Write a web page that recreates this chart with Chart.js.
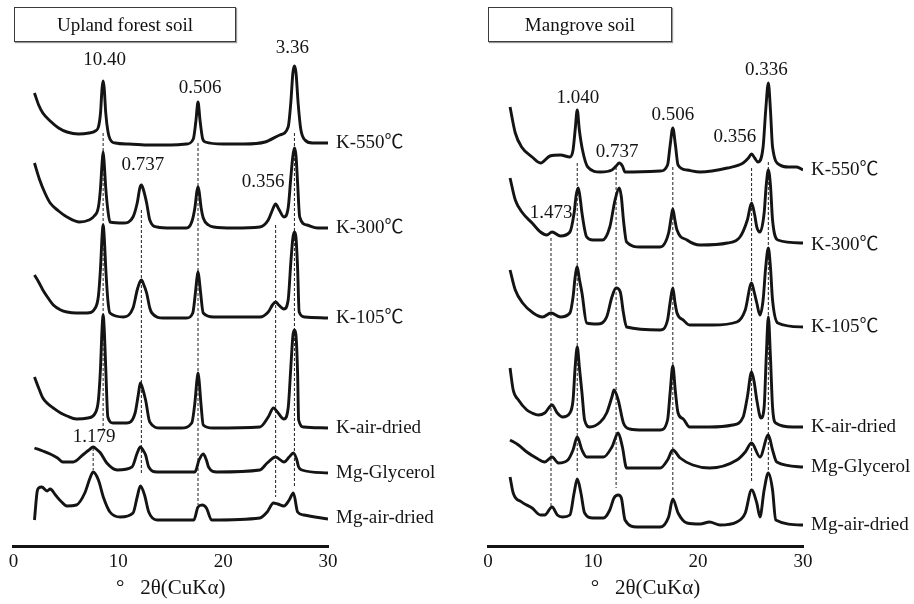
<!DOCTYPE html>
<html>
<head>
<meta charset="utf-8">
<script src="https://cdn.jsdelivr.net/npm/chart.js@4.4.1/dist/chart.umd.min.js"></script>
<style>
  body { margin: 0; background: #fff; width: 914px; height: 604px; position: relative; overflow: hidden; font-family: "Liberation Serif", serif; }
  .panel { position: absolute; top: 0; height: 604px; }
  .box { position: absolute; top: 7px; height: 33px; border: 1.6px solid #3a3a3a; box-shadow: 1px 1px 1px #999; font-size: 19px; line-height: 33px; text-align: center; color: #111; }
</style>
</head>
<body>
<div class="panel" style="left:0;width:460px"><canvas id="upland" width="460" height="604"></canvas></div>
<div class="panel" style="left:460px;width:454px"><canvas id="mangrove" width="454" height="604"></canvas></div>
<div class="box" style="left:14px;width:220px">Upland forest soil</div>
<div class="box" style="left:488px;width:182px">Mangrove soil</div>
<script>
// sample treatments, top to bottom
const sampleNames = ['K-550℃', 'K-300℃', 'K-105℃', 'K-air-dried', 'Mg-Glycerol', 'Mg-air-dried'];
const xTicks = [0, 10, 20, 30];

// ---- Upland forest soil: [2θ, intensity above the trace baseline] ----
const uplandK550 = [[2.0,50],[2.4,38],[2.8,30],[3.5,22],[4.3,15],[5.1,11],[6.2,9],[7.2,10],[7.8,12],[8.1,16],[8.3,30],[8.45,55],[8.55,62],[8.65,55],[8.8,30],[9.0,12],[9.2,4],[9.7,0],[11,-1],[13,-2],[15,-2],[16.5,-1],[17.15,4],[17.4,22],[17.6,41],[17.8,22],[18.05,4],[18.3,1],[20,-1],[22,-1],[24,1],[25.4,8],[26.2,16],[26.45,40],[26.65,70],[26.8,77],[26.95,70],[27.15,40],[27.4,14],[27.8,3],[28.5,0],[30,0]];
const uplandK300 = [[2.0,65],[2.5,48],[3.0,35],[3.5,25],[4.3,17],[5.1,11],[6.3,6],[7.2,8],[7.7,12],[8.1,21],[8.3,40],[8.45,65],[8.55,76],[8.65,65],[8.8,40],[9.0,18],[9.2,6],[10.5,5],[11.4,11],[11.8,25],[12.05,40],[12.2,43],[12.4,38],[12.7,25],[13.0,8],[13.7,1],[15,0],[16.5,0],[17.0,6],[17.3,20],[17.5,37],[17.6,41],[17.7,37],[17.9,20],[18.1,10],[18.6,3],[19.1,1],[21,0],[23.5,1],[24.3,8],[24.7,18],[25.0,24],[25.3,19],[25.8,11],[26.2,20],[26.45,50],[26.65,72],[26.8,80],[26.95,72],[27.1,45],[27.3,11],[28.0,3],[29,0],[30,0]];
const uplandK105 = [[2.0,43],[2.4,36],[2.8,28],[3.3,20],[3.8,13],[4.5,8],[5.1,6],[6,5],[7.0,5],[7.8,10],[8.1,22],[8.3,50],[8.45,82],[8.55,93],[8.65,82],[8.8,50],[9.0,18],[9.2,5],[10.5,1],[11.4,10],[11.8,28],[12.05,36],[12.2,38],[12.4,34],[12.7,25],[13.0,10],[13.2,5],[14.3,0],[16.5,0],[17.1,5],[17.35,25],[17.5,40],[17.6,46],[17.7,40],[17.85,25],[18.1,5],[19.1,1],[23.5,1],[24.3,6],[24.7,13],[25.0,16],[25.3,13],[25.8,9],[26.2,18],[26.45,55],[26.65,80],[26.8,86],[26.95,80],[27.1,50],[27.25,6],[27.8,1],[30,0]];
const uplandKair = [[2.0,51],[2.4,40],[2.8,30],[3.3,24],[3.8,20],[4.5,15],[5.1,12],[6.0,9],[7.1,10],[7.8,15],[8.1,28],[8.3,60],[8.45,100],[8.55,113],[8.65,100],[8.8,60],[9.0,11],[9.5,5],[10.8,5],[11.6,15],[11.9,33],[12.1,45],[12.3,40],[12.6,28],[13.0,6],[14.0,0],[16.0,0],[17.0,5],[17.3,25],[17.5,48],[17.6,55],[17.7,48],[17.9,22],[18.1,3],[19.0,0],[23.5,1],[24.3,11],[24.8,20],[25.1,17],[25.8,9],[26.2,20],[26.45,60],[26.65,92],[26.8,98],[26.95,92],[27.1,55],[27.2,8],[27.7,1],[30,0]];
const uplandMgGly = [[2.0,25],[2.8,22],[3.5,19],[4.2,15],[4.7,11],[5.7,11],[6.6,18],[7.2,23],[7.6,26],[8.0,23],[8.3,20],[8.9,10],[9.9,3],[11.3,6],[11.8,20],[12.1,26],[12.4,22],[12.6,18],[12.9,6],[13.7,1],[17.3,1],[17.7,13],[18.1,19],[18.4,13],[18.6,6],[19.4,1],[23.5,3],[24.2,10],[25.0,16],[25.8,11],[26.3,16],[26.7,20],[27.0,14],[27.2,6],[27.5,3],[30,0]];
const uplandMgAir = [[2.0,-2],[2.25,26],[2.4,30],[2.7,31],[3.2,27],[3.5,29],[4.0,23],[4.5,17],[5.1,12],[6.0,13],[6.8,25],[7.3,40],[7.6,46],[8.1,38],[8.6,20],[9.2,6],[10.2,1],[11.4,5],[11.8,21],[12.1,32],[12.5,23],[12.9,6],[13.7,-2],[17.2,-2],[17.6,11],[18.0,13],[18.4,10],[18.9,-2],[23.5,0],[24.2,6],[24.8,15],[25.2,14],[25.8,12],[26.3,18],[26.7,25],[27.1,6],[27.7,3],[30,-1]];
const uplandOffsets = [403, 318, 228, 118, 73, 28];
// dashed peak guides: [2θ, top, bottom]
const uplandGuides = [[8.55,413,116],[12.2,336,71],[17.6,403,41],[25.0,321,49],[26.8,413,58],[7.6,98,76]];
// d-spacing labels: [text, 2θ, height]
const uplandPeaks = [['10.40',8.7,486],['0.506',17.8,458],['3.36',26.6,498],['0.737',12.35,381],['0.356',23.8,364],['1.179',7.7,109]];

// ---- Mangrove soil ----
const mangroveK550 = [[2.1,63],[2.6,37],[3.2,23],[4.2,13],[5.0,7],[5.9,14],[6.9,15],[7.8,13],[8.1,20],[8.3,40],[8.5,60],[8.7,40],[9.0,20],[9.5,3],[10.7,-2],[11.8,0],[12.2,4],[12.5,7],[12.8,4],[13.05,-2],[16.4,-1],[17.1,5],[17.35,25],[17.6,42],[17.85,25],[18.1,5],[18.95,0],[20.2,-2],[22.8,2],[24.3,7],[24.8,12],[25.1,16],[25.4,12],[25.7,8],[26.2,23],[26.45,60],[26.7,87],[26.9,60],[27.1,23],[27.8,5],[28.6,3],[29.4,3],[30,0]];
const mangroveK300 = [[2.1,67],[2.6,45],[3.3,32],[4.2,22],[5.0,13],[5.6,10],[6.1,13],[6.9,9],[7.8,13],[8.2,32],[8.4,50],[8.6,57],[8.8,45],[8.95,32],[9.4,8],[10.0,5],[10.9,5],[11.6,18],[12.1,45],[12.5,57],[12.7,48],[12.9,25],[13.2,3],[14.5,-2],[16.4,-2],[17.2,12],[17.45,28],[17.6,36],[17.8,25],[18.0,15],[18.95,5],[20.2,0],[22.8,2],[24.0,8],[24.7,25],[25.1,42],[25.4,30],[25.6,18],[25.9,13],[26.3,32],[26.5,60],[26.7,75],[26.9,60],[27.1,25],[27.6,5],[30,2]];
const mangroveK105 = [[2.1,57],[2.6,37],[3.3,24],[4.3,14],[5.2,10],[6.0,14],[6.9,10],[7.8,14],[8.1,30],[8.3,50],[8.5,60],[8.7,48],[8.95,34],[9.4,4],[10.4,3],[11.3,10],[11.8,30],[12.2,39],[12.6,35],[12.9,14],[13.2,0],[16.4,-3],[17.1,7],[17.35,25],[17.6,39],[17.8,25],[18.0,14],[18.6,7],[19.2,2],[21.4,2],[23.7,5],[24.5,17],[25.1,44],[25.35,35],[25.6,24],[25.9,12],[26.2,27],[26.45,60],[26.7,79],[26.9,60],[27.1,27],[27.6,4],[30,0]];
const mangroveKair = [[2.1,59],[2.4,37],[2.9,27],[3.7,17],[4.2,14],[4.8,12],[5.4,14],[6.1,22],[6.6,14],[7.1,10],[7.8,14],[8.1,27],[8.3,60],[8.5,80],[8.7,60],[8.95,34],[9.2,7],[9.7,0],[10.7,5],[11.3,14],[11.8,30],[12.0,37],[12.4,27],[12.9,4],[13.5,-2],[14.8,-3],[16.4,-3],[17.1,7],[17.35,35],[17.6,61],[17.85,35],[18.1,14],[18.6,8],[19.2,0],[21.1,0],[23.3,2],[24.3,10],[24.7,30],[25.1,55],[25.35,45],[25.6,27],[26.0,9],[26.3,20],[26.5,70],[26.7,110],[26.9,70],[27.1,20],[27.4,4],[29.0,0],[30,0]];
const mangroveMgGly = [[2.1,27],[2.9,22],[3.7,15],[4.6,9],[5.4,5],[6.1,10],[6.7,4],[7.6,7],[8.1,17],[8.5,30],[8.95,17],[9.4,10],[11.0,10],[11.8,20],[12.4,34],[12.8,20],[13.2,-1],[16.4,-1],[17.1,7],[17.6,17],[18.3,9],[19.5,2],[21.1,-1],[23.7,7],[24.5,15],[25.1,24],[25.9,10],[26.7,32],[27.1,17],[27.5,5],[30,0]];
const mangroveMgAir = [[2.1,48],[2.4,32],[3.2,23],[4.2,17],[5.0,10],[5.4,10],[6.1,18],[6.6,10],[7.1,8],[7.8,10],[8.2,32],[8.5,46],[8.85,32],[9.2,12],[10.0,7],[11.0,7],[11.6,15],[12.0,27],[12.4,30],[12.7,27],[13.05,5],[14.2,-2],[16.4,-2],[17.2,8],[17.6,26],[18.1,12],[18.95,2],[20.2,1],[21.1,3],[22.1,0],[23.7,3],[24.5,12],[25.1,35],[25.6,22],[25.9,8],[26.3,35],[26.7,52],[27.1,35],[27.4,5],[30,0]];
const mangroveOffsets = [376, 301, 219, 119, 79, 21];
const mangroveGuides = [[6.0,308,38],[8.5,383,74],[12.2,379,58],[17.6,379,51],[25.1,378,64],[26.7,384,76]];
const mangrovePeaks = [['1.040',8.57,448],['0.737',12.3,394],['0.506',17.6,431],['0.356',23.5,409],['0.336',26.5,476],['1.473',6.0,333]];

const serif = '"Liberation Serif", "Noto Sans CJK SC", serif';
const ink = '#141414';

// peak labels and sample names, placed through the scales
const xrdText = {
  id: 'xrdText',
  afterDatasetsDraw(chart, args, opts) {
    const ctx = chart.ctx;
    const x = chart.scales.x, y = chart.scales.y;
    ctx.save();
    ctx.fillStyle = ink;
    ctx.font = '19px ' + serif;
    ctx.textBaseline = 'middle';
    ctx.textAlign = 'center';
    opts.peaks.forEach(p => ctx.fillText(p[0], x.getPixelForValue(p[1]), y.getPixelForValue(p[2])));
    ctx.textAlign = 'left';
    sampleNames.forEach((name, k) => {
      ctx.fillText(name, x.getPixelForValue(30) + 8, y.getPixelForValue(opts.offsets[k]));
    });
    ctx.restore();
  }
};

function drawPanel(id, traces, offsets, guides, peaks, padLeft, padRight) {
  const datasets = [];
  traces.forEach((pts, k) => {
    datasets.push({
      data: pts.map(p => ({ x: p[0], y: p[1] + offsets[k] })),
      borderColor: ink,
      borderWidth: 2.9,
      pointRadius: 0,
      cubicInterpolationMode: 'monotone',
      fill: false
    });
  });
  guides.forEach(g => {
    datasets.push({
      data: [{ x: g[0], y: g[1] }, { x: g[0], y: g[2] }],
      borderColor: '#333',
      borderWidth: 1.1,
      borderDash: [3, 2],
      pointRadius: 0,
      fill: false
    });
  });

  new Chart(document.getElementById(id), {
    type: 'line',
    data: { datasets: datasets },
    options: {
      responsive: false,
      animation: false,
      layout: { padding: { left: padLeft, right: padRight, top: 0, bottom: 0 } },
      plugins: {
        legend: { display: false },
        tooltip: { enabled: false },
        xrdText: { peaks: peaks, offsets: offsets }
      },
      scales: {
        x: {
          type: 'linear',
          min: 0,
          max: 30,
          afterBuildTicks: scale => { scale.ticks = xTicks.map(v => ({ value: v })); },
          afterFit: scale => { scale.height = 58; },
          grid: { display: false, drawTicks: false },
          border: { display: true, width: 3, color: ink },
          ticks: { color: ink, font: { family: serif, size: 19 }, padding: 5, maxRotation: 0 },
          title: {
            display: true,
            text: '°   2θ(CuKα)',
            color: ink,
            font: { family: serif, size: 21 },
            padding: { top: 0, bottom: 3 }
          }
        },
        y: { display: false, min: 0, max: 546 }
      }
    },
    plugins: [xrdText]
  });
}

drawPanel('upland',
  [uplandK550, uplandK300, uplandK105, uplandKair, uplandMgGly, uplandMgAir],
  uplandOffsets, uplandGuides, uplandPeaks, 13.5, 132);
drawPanel('mangrove',
  [mangroveK550, mangroveK300, mangroveK105, mangroveKair, mangroveMgGly, mangroveMgAir],
  mangroveOffsets, mangroveGuides, mangrovePeaks, 28, 111);
</script>
</body>
</html>
